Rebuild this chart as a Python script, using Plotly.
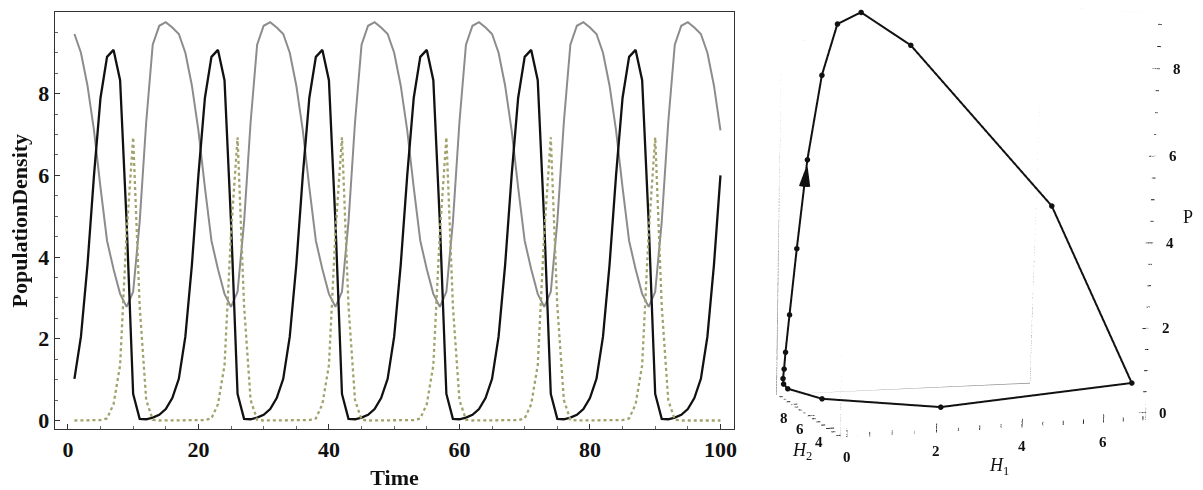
import plotly.graph_objects as go

# ---------------- data ----------------
time = list(range(1, 101))

# grey solid curve (H2)
h2 = [9.46, 9.0, 8.2, 7.1, 5.7, 4.4, 3.7, 3.1, 2.78, 3.15, 4.86, 7.3, 9.2, 9.66, 9.75, 9.62,
      9.46, 9.0, 8.2, 7.1, 5.7, 4.4, 3.7, 3.1, 2.78, 3.15, 4.86, 7.3, 9.2, 9.66, 9.75, 9.62,
      9.46, 9.0, 8.2, 7.1, 5.7, 4.4, 3.7, 3.1, 2.78, 3.15, 4.86, 7.3, 9.2, 9.66, 9.75, 9.62,
      9.46, 9.0, 8.2, 7.1, 5.7, 4.4, 3.7, 3.1, 2.78, 3.15, 4.86, 7.3, 9.2, 9.66, 9.75, 9.62,
      9.46, 9.0, 8.2, 7.1, 5.7, 4.4, 3.7, 3.1, 2.78, 3.15, 4.86, 7.3, 9.2, 9.66, 9.75, 9.62,
      9.46, 9.0, 8.2, 7.1, 5.7, 4.4, 3.7, 3.1, 2.78, 3.15, 4.86, 7.3, 9.2, 9.66, 9.75, 9.62,
      9.46, 9.0, 8.2, 7.1]

# black solid curve (P)
p = [1.02, 2.05, 3.8, 6.0, 7.9, 8.9, 9.07, 8.33, 4.85, 0.65, 0.04, 0.03, 0.07, 0.14, 0.28, 0.55,
     1.02, 2.05, 3.8, 6.0, 7.9, 8.9, 9.07, 8.33, 4.85, 0.65, 0.04, 0.03, 0.07, 0.14, 0.28, 0.55,
     1.02, 2.05, 3.8, 6.0, 7.9, 8.9, 9.07, 8.33, 4.85, 0.65, 0.04, 0.03, 0.07, 0.14, 0.28, 0.55,
     1.02, 2.05, 3.8, 6.0, 7.9, 8.9, 9.07, 8.33, 4.85, 0.65, 0.04, 0.03, 0.07, 0.14, 0.28, 0.55,
     1.02, 2.05, 3.8, 6.0, 7.9, 8.9, 9.07, 8.33, 4.85, 0.65, 0.04, 0.03, 0.07, 0.14, 0.28, 0.55,
     1.02, 2.05, 3.8, 6.0, 7.9, 8.9, 9.07, 8.33, 4.85, 0.65, 0.04, 0.03, 0.07, 0.14, 0.28, 0.55,
     1.02, 2.05, 3.8, 6.0]

# olive dotted curve (H1)
h1 = [0.0, 0.0, 0.0, 0.0, 0.01, 0.05, 0.4, 1.35, 4.6, 6.93, 2.8, 0.5, 0.02, 0.0, 0.0, 0.0,
      0.0, 0.0, 0.0, 0.0, 0.01, 0.05, 0.4, 1.35, 4.6, 6.93, 2.8, 0.5, 0.02, 0.0, 0.0, 0.0,
      0.0, 0.0, 0.0, 0.0, 0.01, 0.05, 0.4, 1.35, 4.6, 6.93, 2.8, 0.5, 0.02, 0.0, 0.0, 0.0,
      0.0, 0.0, 0.0, 0.0, 0.01, 0.05, 0.4, 1.35, 4.6, 6.93, 2.8, 0.5, 0.02, 0.0, 0.0, 0.0,
      0.0, 0.0, 0.0, 0.0, 0.01, 0.05, 0.4, 1.35, 4.6, 6.93, 2.8, 0.5, 0.02, 0.0, 0.0, 0.0,
      0.0, 0.0, 0.0, 0.0, 0.01, 0.05, 0.4, 1.35, 4.6, 6.93, 2.8, 0.5, 0.02, 0.0, 0.0, 0.0,
      0.0, 0.0, 0.0, 0.0]

x_ticks = [0, 20, 40, 60, 80, 100]
y_ticks = [0, 2, 4, 6, 8]

h1_ticks = [i * 0.5 for i in range(0, 15)]
h1_labels = ["0", "", "", "", "2", "", "", "", "4", "", "", "", "6", "", ""]
h2_ticks = [3.0, 3.5, 4.0, 4.5, 5.0, 5.5, 6.0, 6.5, 7.0, 7.5, 8.0, 8.5, 9.0, 9.5]
h2_labels = ["", "", "4", "", "", "", "6", "", "", "", "8", "", "", ""]
p_ticks = [i * 0.5 for i in range(0, 19)]
p_labels = ["0", "", "", "", "2", "", "", "", "4", "", "", "", "6", "", "", "", "8", "", ""]

H1_RANGE = [-0.14, 7.07]
H2_RANGE = [2.64, 9.89]
P_RANGE = [-0.18, 9.25]

SERIF = "Liberation Serif, Times New Roman, serif"

fig = go.Figure()

# ---------------- left: time series ----------------
fig.add_trace(go.Scatter(x=time, y=h2, mode="lines",
                         line=dict(color="#8c8c8c", width=2), showlegend=False))
fig.add_trace(go.Scatter(x=time, y=p, mode="lines",
                         line=dict(color="#111111", width=2.3), showlegend=False))
fig.add_trace(go.Scatter(x=time, y=h1, mode="lines",
                         line=dict(color="#a2a26c", width=2.3, dash="dot"), showlegend=False))

# ---------------- right: 3-D trajectory ----------------
x0, x1 = H1_RANGE
y0, y1 = H2_RANGE
z0, z1 = P_RANGE

# frame of the box built from the axis ranges
bx, by, bz = [], [], []
for a in H1_RANGE:
    for b in H2_RANGE:
        bx += [a, a, None]; by += [b, b, None]; bz += [z0, z1, None]
for a in H1_RANGE:
    for c in P_RANGE:
        bx += [a, a, None]; by += [y0, y1, None]; bz += [c, c, None]
for b in H2_RANGE:
    for c in P_RANGE:
        bx += [x0, x1, None]; by += [b, b, None]; bz += [c, c, None]
fig.add_trace(go.Scatter3d(x=bx, y=by, z=bz, mode="lines",
                           line=dict(color="#8f8f8f", width=1.6),
                           hoverinfo="skip", showlegend=False, scene="scene"))

# tick marks (Mathematica style: on the front edges, pointing into the box)
tx, ty, tz = [], [], []
for v, lab in zip(h1_ticks, h1_labels):
    tx += [v, v, None]; ty += [y0, y0, None]; tz += [z0, z0 + (0.2 if lab else 0.1), None]
for v, lab in zip(h2_ticks, h2_labels):
    tx += [x0, x0 + (0.18 if lab else 0.09), None]; ty += [v, v, None]; tz += [z0, z0, None]
for v, lab in zip(p_ticks, p_labels):
    tx += [x1, x1 - (0.18 if lab else 0.09), None]; ty += [y0, y0, None]; tz += [v, v, None]
fig.add_trace(go.Scatter3d(x=tx, y=ty, z=tz, mode="lines",
                           line=dict(color="#111111", width=1.8),
                           hoverinfo="skip", showlegend=False, scene="scene"))

# the trajectory
fig.add_trace(go.Scatter3d(x=h1, y=h2, z=p, mode="lines+markers",
                           line=dict(color="#111111", width=4),
                           marker=dict(color="#111111", size=3.2),
                           showlegend=False, scene="scene"))

# arrow head on the rising branch (from point 3 to point 4)
k = 3
fig.add_trace(go.Cone(x=[h1[k]], y=[h2[k]], z=[p[k] - 0.1],
                      u=[h1[k] - h1[k - 1]], v=[h2[k] - h2[k - 1]], w=[p[k] - p[k - 1]],
                      anchor="tip", sizemode="absolute", sizeref=0.6,
                      colorscale=[[0, "#111111"], [1, "#111111"]], showscale=False,
                      lighting=dict(ambient=1, diffuse=0, specular=0, fresnel=0),
                      hoverinfo="skip", scene="scene"))

# tick labels and titles of the 3-D box as scene annotations (SVG text)
tick_font = dict(family=SERIF, size=15, color="#111111", weight="bold")
ann = []
for v, lab in zip(h1_ticks, h1_labels):
    if lab:
        ann.append(dict(x=v, y=y0, z=z0, text=lab, showarrow=False, font=tick_font,
                        xanchor="center", yanchor="middle", yshift=-19))
for v, lab in zip(h2_ticks, h2_labels):
    if lab:
        ann.append(dict(x=x0, y=v, z=z0, text=lab, showarrow=False, font=tick_font,
                        xanchor="center", yanchor="middle", xshift=-7, yshift=-13))
for v, lab in zip(p_ticks, p_labels):
    if lab:
        ann.append(dict(x=x1, y=y0, z=v, text=lab, showarrow=False, font=tick_font,
                        xanchor="center", yanchor="middle", xshift=17))
title_font = dict(family=SERIF, size=18, color="#111111")
ann.append(dict(x=(x0 + x1) / 2, y=y0, z=z0, text="<i>H</i><sub>1</sub>", showarrow=False,
                font=title_font, xanchor="center", yanchor="middle", yshift=-38))
ann.append(dict(x=x0, y=5.0, z=z0, text="<i>H</i><sub>2</sub>", showarrow=False,
                font=title_font, xanchor="center", yanchor="middle", xshift=-14, yshift=-30))
ann.append(dict(x=x1, y=y0, z=4.6, text="P", showarrow=False,
                font=title_font, xanchor="center", yanchor="middle", xshift=34))

axis3d_common = dict(visible=False, showbackground=False, showgrid=False,
                     zeroline=False, showline=False, showspikes=False)

fig.update_layout(
    width=1203, height=490,
    margin=dict(l=0, r=0, t=0, b=0),
    paper_bgcolor="white", plot_bgcolor="white",
    xaxis=dict(domain=[0.0457, 0.6118], range=[-2.0, 102.1],
               tickvals=x_ticks, ticks="inside", ticklen=5, tickcolor="#333",
               minor=dict(dtick=5, ticks="inside", ticklen=3, tickcolor="#666"),
               showline=True, linecolor="#333", linewidth=1.2, mirror=True,
               showgrid=False, zeroline=False,
               tickfont=dict(family=SERIF, size=22, color="#111", weight="bold"),
               title=dict(text="Time", standoff=10,
                          font=dict(family=SERIF, size=22, color="#111", weight="bold"))),
    yaxis=dict(domain=[0.1163, 0.9755], range=[-0.22, 10.0],
               tickvals=y_ticks, ticks="inside", ticklen=5, tickcolor="#333",
               minor=dict(dtick=0.5, ticks="inside", ticklen=3, tickcolor="#666"),
               showline=True, linecolor="#333", linewidth=1.2, mirror=True,
               showgrid=False, zeroline=False,
               tickfont=dict(family=SERIF, size=22, color="#111", weight="bold"),
               title=dict(text="PopulationDensity", standoff=4,
                          font=dict(family=SERIF, size=22, color="#111", weight="bold"))),
    scene=dict(
        domain=dict(x=[0.0, 1.0], y=[0.0, 1.0]),
        bgcolor="rgba(0,0,0,0)",
        aspectmode="manual", aspectratio=dict(x=0.82, y=0.331, z=1.0),
        camera=dict(eye=dict(x=-1.149, y=-1.396, z=0.006),
                    center=dict(x=-0.945, y=-0.013, z=-0.055),
                    up=dict(x=0, y=0, z=1), projection=dict(type="perspective")),
        xaxis=dict(range=H1_RANGE, **axis3d_common),
        yaxis=dict(range=H2_RANGE, **axis3d_common),
        zaxis=dict(range=P_RANGE, **axis3d_common),
        annotations=ann,
    ),
)

fig.write_html("out.html")
